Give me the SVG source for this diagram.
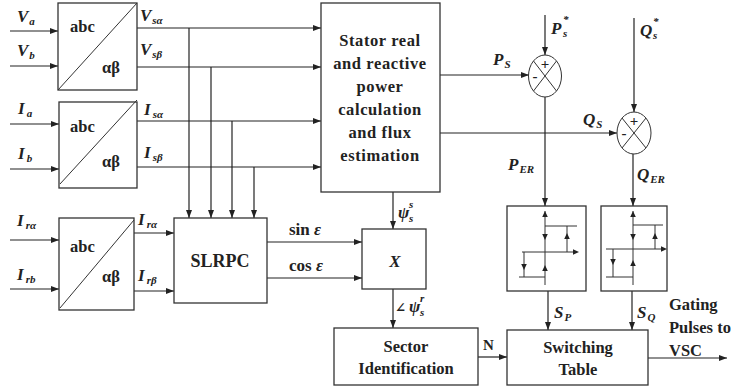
<svg xmlns="http://www.w3.org/2000/svg" xmlns:xlink="http://www.w3.org/1999/xlink" width="740" height="389" viewBox="0 0 740 389">
<defs>
<style>
.box{fill:#fff;stroke:#333;stroke-width:1.3}
.thin{fill:none;stroke:#333;stroke-width:1}
.arr{fill:none;stroke:#222;stroke-width:1.2;marker-end:url(#ah)}
.t{font-weight:bold;fill:#222}
.m{font-weight:bold;font-style:italic;fill:#222;font-size:17px}
.s{font-size:11px}
</style>
<marker id="ah" viewBox="0 0 8 6" refX="8" refY="3" markerWidth="8" markerHeight="6" markerUnits="userSpaceOnUse" orient="auto">
<path d="M0,0 L8,3 L0,6 z" fill="#222"/>
</marker>
<path id="tri" d="M0,0 L-6,-2.8 L-6,2.8 z" fill="#222"/>
</defs>

<g id="connectors">
<line class="arr" x1="10" y1="31" x2="58" y2="31"/>
<line class="arr" x1="10" y1="66" x2="58" y2="66"/>
<line class="arr" x1="10" y1="124" x2="59" y2="124"/>
<line class="arr" x1="10" y1="169" x2="59" y2="169"/>
<line class="arr" x1="10" y1="240" x2="59" y2="240"/>
<line class="arr" x1="10" y1="289" x2="59" y2="289"/>
<line class="arr" x1="137" y1="28" x2="321" y2="28"/>
<line class="arr" x1="137" y1="67" x2="321" y2="67"/>
<line class="arr" x1="137" y1="121" x2="321" y2="121"/>
<line class="arr" x1="137" y1="167" x2="321" y2="167"/>
<line class="arr" x1="189" y1="28" x2="189" y2="218"/>
<line class="arr" x1="211" y1="67" x2="211" y2="218"/>
<line class="arr" x1="232" y1="121" x2="232" y2="218"/>
<line class="arr" x1="254" y1="167" x2="254" y2="218"/>
<line class="arr" x1="134" y1="233" x2="174" y2="233"/>
<line class="arr" x1="134" y1="291" x2="174" y2="291"/>
<line class="arr" x1="267" y1="242" x2="362" y2="242"/>
<line class="arr" x1="267" y1="278" x2="362" y2="278"/>
<line class="arr" x1="393" y1="192" x2="393" y2="229"/>
<line class="arr" x1="393" y1="289" x2="393" y2="328"/>
<line class="arr" x1="478" y1="357" x2="507" y2="357"/>
<line class="arr" x1="648" y1="358" x2="727" y2="358"/>
<line class="arr" x1="440" y1="75" x2="529" y2="75"/>
<line class="arr" x1="440" y1="133" x2="617" y2="133"/>
<line class="arr" x1="545" y1="15" x2="545" y2="55"/>
<line class="arr" x1="634" y1="18" x2="634" y2="112"/>
<line class="arr" x1="545" y1="97" x2="545" y2="206"/>
<line class="arr" x1="633" y1="154" x2="633" y2="206"/>
<line class="arr" x1="548" y1="291" x2="548" y2="330"/>
<line class="arr" x1="632" y1="291" x2="632" y2="330"/>
</g>

<g font-family="'Liberation Serif', 'DejaVu Serif', serif">

<g id="abc-v">
<rect class="box" x="58" y="3" width="79" height="87"/>
<line class="thin" x1="58" y1="90" x2="137" y2="3"/>
<text class="t" x="70" y="32" font-size="16.5">abc</text>
<text class="t" x="102" y="73" font-size="16.5">αβ</text>
</g>
<g id="abc-i">
<rect class="box" x="59" y="102" width="78" height="86"/>
<line class="thin" x1="60" y1="184" x2="137" y2="100"/>
<text class="t" x="70" y="132" font-size="16.5">abc</text>
<text class="t" x="102" y="167" font-size="16.5">αβ</text>
</g>
<g id="abc-ir">
<rect class="box" x="59" y="218" width="75" height="92"/>
<line class="thin" x1="60" y1="308" x2="134" y2="220"/>
<text class="t" x="70" y="252" font-size="16.5">abc</text>
<text class="t" x="102" y="282" font-size="16.5">αβ</text>
</g>

<g id="labels-in">
<text class="m" x="17" y="22">V<tspan class="s" dy="3" dx="1">a</tspan></text>
<text class="m" x="17" y="56">V<tspan class="s" dy="3" dx="1">b</tspan></text>
<text class="m" x="18" y="114">I<tspan class="s" dy="3" dx="2">a</tspan></text>
<text class="m" x="18" y="159">I<tspan class="s" dy="3" dx="2">b</tspan></text>
<text class="m" x="17" y="226">I<tspan class="s" dy="3" dx="2">rα</tspan></text>
<text class="m" x="17" y="280">I<tspan class="s" dy="3" dx="2">rb</tspan></text>
<text class="m" x="140" y="21">V<tspan class="s" dy="3" dx="1">sα</tspan></text>
<text class="m" x="140" y="55">V<tspan class="s" dy="3" dx="1">sβ</tspan></text>
<text class="m" x="144" y="115">I<tspan class="s" dy="3" dx="2">sα</tspan></text>
<text class="m" x="144" y="158">I<tspan class="s" dy="3" dx="2">sβ</tspan></text>
<text class="m" x="138" y="225">I<tspan class="s" dy="3" dx="2">rα</tspan></text>
<text class="m" x="138" y="281">I<tspan class="s" dy="3" dx="2">rβ</tspan></text>
</g>

<g id="stator">
<rect class="box" x="321" y="3" width="119" height="189"/>
<g class="t" font-size="16.5" text-anchor="middle" letter-spacing="0.6">
<text x="380" y="46">Stator real</text>
<text x="380" y="69">and reactive</text>
<text x="380" y="92">power</text>
<text x="380" y="115">calculation</text>
<text x="380" y="138">and flux</text>
<text x="380" y="161">estimation</text>
</g>
</g>

<g id="slrpc">
<rect class="box" x="174" y="218" width="93" height="85"/>
<text class="t" x="220" y="267" font-size="18" text-anchor="middle">SLRPC</text>
</g>
<text class="t" x="289" y="235" font-size="17">sin <tspan font-style="italic">ε</tspan></text>
<text class="t" x="289" y="271" font-size="17">cos <tspan font-style="italic">ε</tspan></text>

<g id="mult">
<rect class="box" x="362" y="229" width="64" height="60"/>
<text class="m" x="395" y="267" text-anchor="middle" font-size="18">X</text>
</g>
<text class="m" x="398" y="218">ψ</text>
<text class="m s" x="409" y="208">s</text>
<text class="m s" x="409" y="222">s</text>
<text class="t" x="395" y="312" font-size="13" font-weight="normal">∠</text>
<text class="m" x="409" y="312">ψ</text>
<text class="m s" x="420" y="302">r</text>
<text class="m s" x="420" y="316">s</text>

<g id="sector">
<rect class="box" x="334" y="328" width="144" height="57"/>
<text class="t" x="406" y="352" font-size="16.5" text-anchor="middle">Sector</text>
<text class="t" x="406" y="374" font-size="16.5" text-anchor="middle">Identification</text>
</g>
<text class="t" x="483" y="350" font-size="15">N</text>

<g id="switching">
<rect class="box" x="507" y="330" width="141" height="55"/>
<text class="t" x="578" y="353" font-size="16.5" text-anchor="middle">Switching</text>
<text class="t" x="578" y="375" font-size="16.5" text-anchor="middle">Table</text>
</g>
<g class="t" font-size="16.5">
<text x="669" y="310">Gating</text>
<text x="669" y="333">Pulses to</text>
<text x="669" y="356">VSC</text>
</g>
<text class="m" x="554" y="318">S<tspan class="s" dy="3" dx="1">P</tspan></text>
<text class="m" x="637" y="318">S<tspan class="s" dy="3" dx="1">Q</tspan></text>

<g id="sum-p">
<ellipse class="thin" cx="545" cy="76" rx="16.5" ry="21"/>
<line class="thin" x1="533.5" y1="61" x2="556.5" y2="91"/>
<line class="thin" x1="556.5" y1="61" x2="533.5" y2="91"/>
<text class="t" x="545" y="69" font-size="15" text-anchor="middle">+</text>
<text class="t" x="535" y="81" font-size="15" text-anchor="middle">-</text>
</g>
<g id="sum-q">
<ellipse class="thin" cx="634" cy="133" rx="17" ry="21"/>
<line class="thin" x1="622" y1="118" x2="646" y2="148"/>
<line class="thin" x1="646" y1="118" x2="622" y2="148"/>
<text class="t" x="634" y="126" font-size="15" text-anchor="middle">+</text>
<text class="t" x="624" y="138" font-size="15" text-anchor="middle">-</text>
</g>
<text class="m" x="551" y="34">P</text>
<text class="m s" x="563" y="23">*</text>
<text class="m s" x="563" y="37">s</text>
<text class="m" x="640" y="36">Q</text>
<text class="m s" x="653" y="25">*</text>
<text class="m s" x="653" y="39">s</text>
<text class="m" x="493" y="65">P<tspan class="s" dy="3" dx="1">S</tspan></text>
<text class="m" x="583" y="125">Q<tspan class="s" dy="3" dx="1">S</tspan></text>
<text class="m" x="508" y="170">P<tspan class="s" dy="3" dx="1">ER</tspan></text>
<text class="m" x="637" y="180">Q<tspan class="s" dy="3" dx="1">ER</tspan></text>
</g>

<g id="hyst-p">
<rect class="box" x="507" y="206" width="79" height="85"/>
<line class="thin" x1="545" y1="211" x2="545" y2="285"/>
<line class="thin" x1="545" y1="226" x2="577" y2="226"/>
<line class="thin" x1="567" y1="226" x2="567" y2="252"/>
<line class="thin" x1="522" y1="252" x2="577" y2="252"/>
<line class="thin" x1="524" y1="252" x2="524" y2="277"/>
<line class="thin" x1="519" y1="277" x2="545" y2="277"/>
<use xlink:href="#tri" transform="translate(545,211) rotate(-90)"/>
<use xlink:href="#tri" transform="translate(545,240) rotate(90)"/>
<use xlink:href="#tri" transform="translate(545,265) rotate(-90)"/>
<use xlink:href="#tri" transform="translate(567,233) rotate(-90)"/>
<use xlink:href="#tri" transform="translate(524,270) rotate(90)"/>
<use xlink:href="#tri" transform="translate(579,252)"/>
</g>
<g id="hyst-q">
<rect class="box" x="601" y="206" width="66" height="85"/>
<line class="thin" x1="633" y1="211" x2="633" y2="285"/>
<line class="thin" x1="633" y1="225" x2="663" y2="225"/>
<line class="thin" x1="655" y1="225" x2="655" y2="249"/>
<line class="thin" x1="606" y1="249" x2="665" y2="249"/>
<line class="thin" x1="613" y1="249" x2="613" y2="277"/>
<line class="thin" x1="606" y1="277" x2="633" y2="277"/>
<use xlink:href="#tri" transform="translate(633,211) rotate(-90)"/>
<use xlink:href="#tri" transform="translate(633,240) rotate(90)"/>
<use xlink:href="#tri" transform="translate(633,260) rotate(-90)"/>
<use xlink:href="#tri" transform="translate(655,233) rotate(-90)"/>
<use xlink:href="#tri" transform="translate(613,265) rotate(90)"/>
<use xlink:href="#tri" transform="translate(667,249)"/>
</g>
</svg>
